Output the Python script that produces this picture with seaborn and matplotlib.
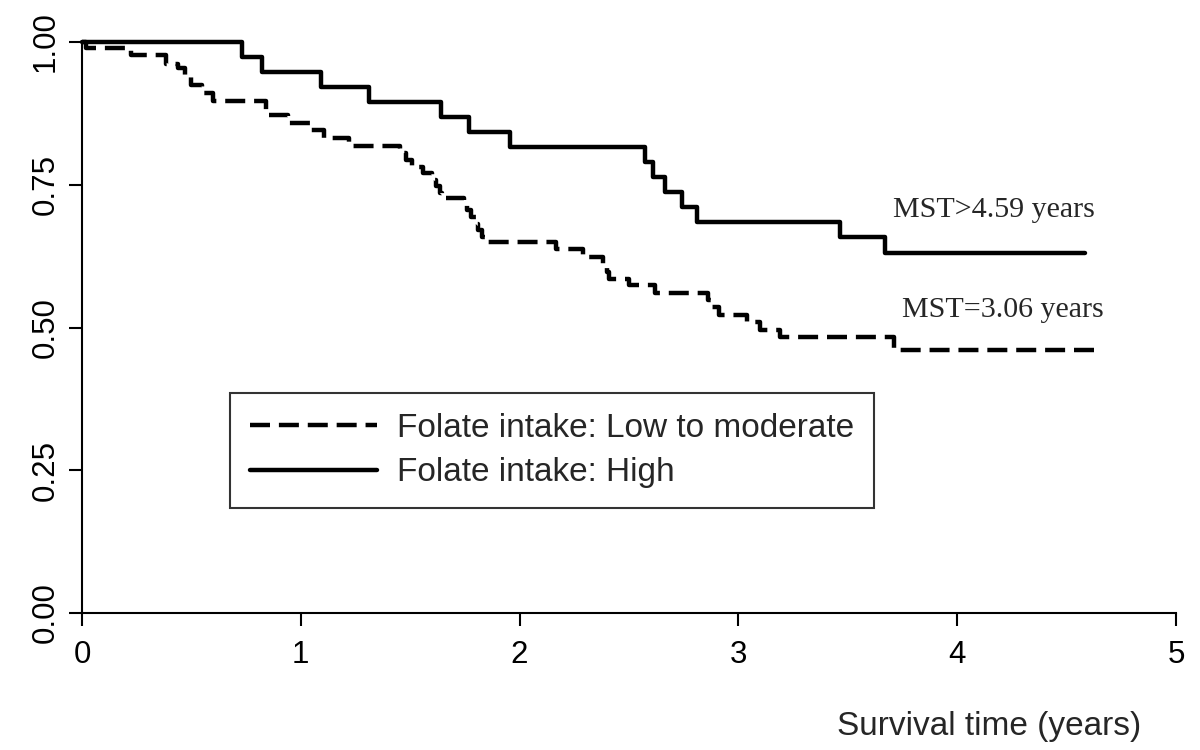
import numpy as np
import pandas as pd
import matplotlib
matplotlib.use("Agg")
import matplotlib.pyplot as plt
import seaborn as sns

# Kaplan-Meier step values (time in years, survival probability)
high_time = [0, 0.73, 0.824, 1.092, 1.31, 1.64, 1.771, 1.955, 2.573, 2.61,
             2.665, 2.741, 2.812, 3.465, 3.67, 4.585]
high_surv = [1.0, 0.974, 0.947, 0.921, 0.895, 0.868, 0.842, 0.816, 0.789, 0.763,
             0.737, 0.711, 0.684, 0.658, 0.630, 0.630]

low_time = [0, 0.02, 0.226, 0.386, 0.44, 0.47, 0.50, 0.55, 0.60, 0.842,
            0.94, 1.04, 1.108, 1.22, 1.453, 1.48, 1.51, 1.56, 1.60, 1.62,
            1.635, 1.645, 1.745, 1.76, 1.78, 1.80, 1.81, 1.83, 1.84, 2.165,
            2.29, 2.38, 2.40, 2.41, 2.50, 2.62, 2.86, 2.88, 2.91, 3.04,
            3.10, 3.19, 3.713, 4.647]
low_surv = [1.0, 0.989, 0.977, 0.962, 0.955, 0.943, 0.925, 0.911, 0.896, 0.872,
            0.858, 0.846, 0.832, 0.818, 0.805, 0.793, 0.781, 0.770, 0.758, 0.747,
            0.736, 0.727, 0.716, 0.705, 0.693, 0.682, 0.670, 0.659, 0.650, 0.638,
            0.623, 0.610, 0.597, 0.585, 0.574, 0.560, 0.548, 0.536, 0.522, 0.509,
            0.495, 0.483, 0.461, 0.461]

labels = ["Folate intake: Low to moderate", "Folate intake: High"]
y_ticks = [0, 0.25, 0.5, 0.75, 1.0]
x_ticks = [0, 1, 2, 3, 4, 5]

# median survival time notes
mst_high = ("MST>4.59 years", 3.707, 0.706)
mst_low = ("MST=3.06 years", 3.748, 0.531)

sns.set_style("ticks")
plt.rcParams["font.family"] = ["Liberation Sans", "DejaVu Sans"]

fig = plt.figure(figsize=(12, 7.5), dpi=100)
ax = fig.add_axes([82 / 1200, 1 - 613 / 750, (1176 - 82) / 1200, (613 - 42) / 750])

low_df = pd.DataFrame({"time": low_time, "surv": low_surv})
high_df = pd.DataFrame({"time": high_time, "surv": high_surv})

lw = 3.2
sns.lineplot(data=low_df, x="time", y="surv", ax=ax, color="black", lw=lw,
             drawstyle="steps-post", linestyle=(0, (4.5, 2)), label=labels[0],
             clip_on=False)
sns.lineplot(data=high_df, x="time", y="surv", ax=ax, color="black", lw=lw,
             drawstyle="steps-post", label=labels[1], clip_on=False)

ax.set_xlim(0, 5)
ax.set_ylim(0, 1)
ax.set_xticks(x_ticks)
ax.set_yticks(y_ticks)
ax.set_yticklabels([f"{v:.2f}" for v in y_ticks], rotation=90, va="center")
ax.set_xticklabels([str(v) for v in x_ticks])
ax.tick_params(axis="both", labelsize=22.5, length=9.5, width=1.5, color="black",
               labelcolor="black")
ax.tick_params(axis="x", pad=10)
ax.tick_params(axis="y", pad=6)
sns.despine(ax=ax)
for side in ["left", "bottom"]:
    ax.spines[side].set_linewidth(1.5)
    ax.spines[side].set_color("black")

ax.set_ylabel("")
ax.set_xlabel("Survival time (years)", fontsize=24, loc="right")
ax.xaxis.set_label_coords((1141 - 82) / (1176 - 82), -(711 - 613) / 571)

for txt, xx, yy in [mst_high, mst_low]:
    ax.text(xx, yy, txt, fontsize=21.6, family=["Liberation Serif", "DejaVu Serif"],
            va="center", ha="left")

leg = ax.legend(loc="upper left", bbox_to_anchor=(230 / 1200, 1 - 393 / 750),
                bbox_transform=fig.transFigure, borderaxespad=0, frameon=True,
                fancybox=False, fontsize=24, handlelength=3.8, handletextpad=0.6,
                labelspacing=0.4, borderpad=0.6)
leg.get_frame().set_edgecolor("black")
leg.get_frame().set_linewidth(1.5)
for line in leg.get_lines():
    line.set_linewidth(lw)

fig.savefig("out.png", dpi=100)
